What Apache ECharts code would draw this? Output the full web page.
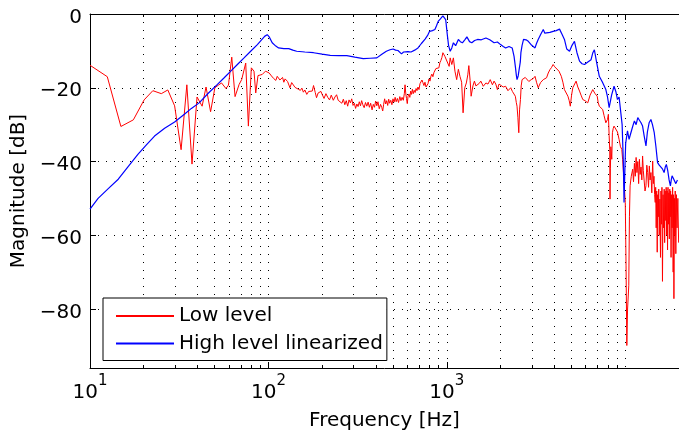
<!DOCTYPE html>
<html><head><meta charset="utf-8">
<script src="https://cdn.jsdelivr.net/npm/echarts@6/dist/echarts.min.js"></script>
<style>html,body{margin:0;padding:0;background:#fff}#c{width:679px;height:436px}</style>
</head><body><div id="c"></div>
<script>
const seriesNames = ['Low level', 'High level linearized'];
const xMajorTicks = [10, 100, 1000, 10000];
const xMinorTicks = [20,30,40,50,60,70,80,90,200,300,400,500,600,700,800,900,2000,3000,4000,5000,6000,7000,8000,9000];
const yTicks = [0, -20, -40, -60, -80];

const redFreq = [10,12.5,14.9,17.5,20.1,22.5,25.1,27.3,29.8,32.4,34.9,37.3,39.8,42.5,44.7,47.4,50.1,52.4,54.6,57.8,59.7,62.3,65.0,68.5,70.8,74.6,77.2,80.2,83.0,84.9,87.4,92.3,96.3,
101,104,107,110,112,114,116,118,120,122,124,126,128,130,132,135,138,141,144,147,151,154,157,160,164,168,172,176,179,183,186,190,193,197,
200,205,210,215,220,225,231,236,241,246,252,258,263,268,273,278,283,288,293,298,303,308,313,318,323,328,333,338,344,350,356,362,368,374,381,387,393,399,405,411,418,425,432,437,442,448,454,460,466,472,478,485,492,499,506,513,520,528,536,545,553,561,570,578,583,588,594,600,606,613,620,627,634,641,648,656,664,672,680,689,698,707,716,725,734,744,754,764,774,784,794,804,814,824,835,846,857,868,879,890,902,914,926,938,950,962,975,988,
1030,1044,1066,1088,1110,1135,1160,1184,1210,1233,1260,1286,1310,1328,1350,1368,1400,1427,1455,1486,1520,1550,1600,1655,1700,1750,1800,1839,1880,1920,1960,2000,2070,2135,2200,2280,2330,2380,2420,2450,2473,2500,2530,2555,2585,2610,2640,2700,2750,2800,2880,2970,3050,3120,3180,3250,3350,3470,3550,3620,3700,3780,3860,3940,4020,4110,4250,4380,4470,4560,4650,4770,4850,4920,5000,5080,5200,5300,5420,5540,5650,5780,5950,6160,6350,6570,6750,6960,7050,7150,7300,7470,7600,7780,7950,8040,8120,8180,8210,8250,8300,8400,8470,8560,8650,8850,9040,9230,9400,9560,9660,9800,
10000,10100,10200,10300,10460,10550,10640,10800,11000,11120,11250,11380,11500,11620,11750,11880,12000,12120,12250,12380,12500,12620,12750,12900,13060,13200,13350,13500,13640,13780,13920,14080,14240,14360,14480,14600,14720,
14800,14900,15000,15100,15200,15300,15400,15500,15630,15750,15850,15950,16050,16160,16280,16400,16520,16620,16730,16850,16950,17050,17150,17250,17350,17450,17550,17650,17750,17850,17950,18050,18180,18300,18420,18550,18650,18730,18850,18950,19050,19200,19350,19500,19700,19900];
const redMag = [-13.9,-17.0,-30.5,-28.7,-23.3,-20.8,-21.6,-20.6,-24.9,-36.8,-19.2,-40.7,-22.5,-25.0,-19.8,-26.5,-20.0,-19.3,-18.7,-20.2,-19.3,-11.7,-22.4,-19.1,-17.8,-13.3,-30.4,-14.6,-15.5,-21.4,-16.7,-16.4,-15.5,
-16.0,-16.8,-17.5,-18.0,-16.9,-17.0,-17.9,-18.0,-17.2,-18.5,-17.6,-17.4,-18.3,-17.8,-20.0,-18.6,-18.8,-19.9,-19.7,-20.4,-20.7,-20.1,-21.2,-20.6,-21.8,-21.0,-20.6,-20.9,-19.4,-21.3,-22.7,-21.4,-21.5,-21.0,
-21.8,-22.9,-21.6,-22.6,-23.3,-22.0,-23.4,-22.5,-21.9,-23.4,-23.0,-24.2,-23.1,-24.6,-23.5,-25.0,-23.3,-24.1,-23.0,-24.8,-24.2,-25.6,-24.4,-25.1,-23.8,-24.9,-23.5,-24.6,-25.4,-24.0,-25.0,-23.9,-25.3,-24.2,-26.0,-24.5,-25.3,-23.6,-24.9,-23.8,-25.7,-24.5,-25.4,-26.3,-24.6,-23.0,-24.4,-23.5,-24.8,-23.1,-24.2,-23.4,-24.6,-23.0,-23.9,-22.6,-23.8,-22.9,-24.0,-22.4,-23.5,-22.6,-23.4,-21.5,-19.2,-21.4,-22.9,-24.3,-22.3,-21.7,-22.6,-20.9,-21.8,-20.4,-21.6,-20.7,-21.3,-20.2,-20.8,-19.8,-20.5,-18.9,-19.4,-17.9,-18.6,-19.4,-18.5,-19.8,-20.2,-18.9,-17.6,-18.2,-16.9,-16.3,-17.0,-15.9,-16.3,-14.8,-15.3,-14.3,-14.6,-13.2,-12.6,-11.8,-10.5,-11.0,-11.5,-11.9,
-14.2,-11.9,-13.7,-11.9,-15.5,-17.8,-15.0,-16.9,-18.5,-26.8,-20.0,-18.7,-16.5,-14.0,-18.0,-22.3,-19.5,-18.2,-19.5,-20.0,-18.8,-18.2,-19.6,-18.7,-19.0,-17.8,-19.2,-18.2,-19.0,-20.5,-19.0,-18.7,-19.8,-19.6,-20.8,-20.0,-21.0,-21.4,-22.3,-24.0,-25.0,-28.0,-32.2,-26.0,-23.2,-19.5,-17.8,-18.0,-17.2,-17.3,-18.3,-17.8,-17.5,-16.9,-18.5,-20.0,-18.6,-17.8,-18.0,-17.3,-16.0,-15.1,-14.5,-13.7,-14.3,-14.6,-15.5,-16.9,-18.5,-20.5,-21.0,-22.3,-23.5,-25.0,-22.0,-20.0,-19.5,-18.2,-19.8,-20.9,-22.0,-23.2,-23.5,-24.1,-22.0,-20.5,-21.5,-22.3,-24.0,-25.0,-24.5,-25.9,-27.5,-29.5,-28.6,-27.2,-33.0,-36.7,-50.2,-42.0,-36.0,-39.4,-32.2,-31.0,-30.4,-30.4,-32.0,-34.0,-36.0,-36.7,-39.4,-44.0,
-51.1,-68.3,-89.9,-80.0,-73.7,-55.0,-46.6,-44.0,-42.1,-45.5,-40.5,-44.0,-38.9,-43.0,-40.0,-46.0,-39.4,-43.5,-41.5,-45.0,-38.5,-42.5,-42.0,-48.0,-46.6,-41.0,-43.0,-47.0,-41.2,-45.0,-43.0,-48.5,-39.9,-46.0,-44.0,-49.0,-51.1,
-47.0,-58.0,-48.0,-64.6,-49.0,-55.0,-47.5,-60.0,-50.2,-66.0,-48.0,-57.0,-47.0,-72.5,-49.0,-58.0,-47.5,-62.0,-48.0,-56.0,-47.0,-60.0,-48.0,-64.0,-47.0,-57.0,-48.5,-61.0,-47.5,-55.0,-48.0,-66.0,-49.0,-58.0,-47.0,-70.0,-49.0,-77.2,-50.0,-60.0,-48.0,-65.0,-49.0,-58.0,-50.0,-62.0];

const blueFreq = [10,11.1,12.7,14.4,16.4,18.6,20.7,23.0,26.2,29.8,33.8,37.0,40.9,46.0,51.8,56.5,61.5,67.0,73.0,79.5,86.7,91.5,95.5,98.5,
101,105,110,114,122,130,137,144,160,179,200,222,248,275,305,340,372,405,430,458,480,500,516,532,545,557,572,586,605,630,660,689,720,755,780,800,830,857,875,894,920,950,970,985,995,
1005,1022,1044,1066,1088,1120,1160,1190,1222,1260,1295,1340,1380,1430,1486,1560,1655,1740,1839,1920,2000,2070,2135,2230,2323,2380,2420,2450,2473,2510,2558,2580,2600,2640,2690,2780,2860,2990,3120,3180,3250,3360,3470,3540,3620,3780,3940,4100,4280,4420,4560,4700,4870,5030,5190,5360,5540,5720,5910,6170,6430,6580,6710,6900,7150,7450,7780,7950,8120,8380,8650,8850,9040,9230,9430,9600,9750,9840,9950,10050,
10290,10500,10750,11000,11250,11500,11750,12000,12250,12500,12750,13060,13300,13600,13920,14200,14530,14850,15170,15500,15810,16150,16500,16750,16990,17300,17600,17900,18100,18290,18550,18800,19200,19600];
const blueMag = [-52.9,-50.0,-47.3,-44.8,-41.3,-38.0,-35.5,-33.1,-31.0,-29.3,-27.2,-25.6,-24.1,-21.5,-19.1,-17.3,-15.5,-13.7,-11.9,-10.1,-8.3,-7.0,-6.0,-5.6,
-6.2,-7.8,-8.7,-9.2,-9.4,-9.4,-9.8,-10.1,-10.3,-10.5,-10.9,-11.2,-11.3,-11.3,-11.7,-12.1,-12.0,-11.9,-11.0,-10.1,-9.7,-9.5,-9.8,-9.9,-10.4,-10.8,-10.3,-9.8,-10.2,-10.3,-9.8,-9.2,-8.0,-6.8,-5.8,-4.7,-4.5,-4.2,-3.2,-2.0,-1.3,-0.5,-0.6,-1.5,-3.5,
-5.5,-8.5,-10.1,-9.2,-7.8,-8.6,-6.9,-7.5,-7.8,-7.0,-6.2,-7.5,-7.8,-7.2,-6.9,-7.0,-6.5,-7.0,-7.8,-7.6,-8.3,-8.8,-9.2,-8.8,-9.2,-11.5,-14.2,-16.5,-17.8,-16.8,-16.4,-13.0,-10.5,-8.5,-6.9,-7.0,-7.4,-8.5,-9.2,-8.0,-6.9,-5.5,-4.2,-5.2,-5.6,-5.0,-4.7,-4.5,-4.1,-5.5,-6.9,-9.5,-10.1,-8.5,-7.4,-10.5,-12.8,-13.5,-13.7,-13.0,-12.4,-10.5,-9.7,-13.0,-16.9,-18.5,-20.5,-22.5,-25.4,-22.0,-19.6,-21.0,-23.2,-22.5,-22.3,-30.0,-40.0,-51.1,-42.0,-35.0,
-31.7,-34.0,-32.2,-30.5,-29.0,-30.0,-28.1,-28.8,-29.5,-30.4,-33.0,-35.8,-32.0,-29.5,-28.6,-30.0,-32.2,-36.0,-40.3,-41.0,-41.2,-42.0,-43.0,-41.5,-40.8,-42.5,-45.0,-46.6,-45.0,-43.9,-44.5,-44.4,-46.0,-45.0];

const FONT = 'DejaVu Sans';
const dotted = {color: '#000', width: 1, type: [1, 7]};
const xBase = {type: 'log', logBase: 10, min: 10, max: 20000, gridIndex: 0};
const pair = (f, m) => f.map((v, i) => [v, m[i]]);

const chart = echarts.init(document.getElementById('c'), null, {renderer: 'canvas'});
chart.setOption({
  animation: false,
  backgroundColor: '#fff',
  grid: {left: 90, top: 14, right: -4, bottom: 67, containLabel: false},
  legend: {
    orient: 'vertical', left: 103, top: 298, padding: [8, 4, 7, 12],
    itemWidth: 58, itemHeight: 20, itemGap: 7.5,
    backgroundColor: '#fff', borderColor: '#000', borderWidth: 1, borderRadius: 0,
    selectedMode: false,
    itemStyle: {opacity: 0},
    textStyle: {fontFamily: FONT, fontSize: 20, color: '#000', lineHeight: 20},
    data: seriesNames
  },
  xAxis: [
    Object.assign({}, xBase, {
      position: 'bottom',
      axisLine: {show: true, onZero: false, lineStyle: {color: '#000', width: 1}},
      axisTick: {show: true, inside: true, length: 6, customValues: xMajorTicks, lineStyle: {color: '#000'}},
      axisLabel: {
        customValues: xMajorTicks, margin: 6, showMaxLabel: false,
        formatter: v => '{b|10}{s|' + Math.round(Math.log10(v)) + '}',
        rich: {
          b: {fontFamily: FONT, fontSize: 20, color: '#000', lineHeight: 38},
          s: {fontFamily: FONT, fontSize: 15, color: '#000', lineHeight: 15, verticalAlign: 'top'}
        }
      },
      splitLine: {show: true, lineStyle: dotted},
      name: 'Frequency [Hz]', nameLocation: 'middle', nameGap: 43,
      nameTextStyle: {fontFamily: FONT, fontSize: 20, color: '#000'}
    }),
    Object.assign({}, xBase, {
      position: 'bottom',
      axisLine: {show: false, onZero: false},
      axisTick: {show: true, inside: true, length: 3, customValues: xMinorTicks, lineStyle: {color: '#000'}},
      axisLabel: {show: false},
      splitLine: {show: true, lineStyle: dotted}
    }),
    Object.assign({}, xBase, {
      position: 'top',
      axisLine: {show: true, onZero: false, lineStyle: {color: '#000', width: 1}},
      axisTick: {show: true, inside: true, length: 6, customValues: xMajorTicks, lineStyle: {color: '#000'}},
      axisLabel: {show: false},
      splitLine: {show: false}
    }),
    Object.assign({}, xBase, {
      position: 'top',
      axisLine: {show: false, onZero: false},
      axisTick: {show: true, inside: true, length: 3, customValues: xMinorTicks, lineStyle: {color: '#000'}},
      axisLabel: {show: false},
      splitLine: {show: false}
    })
  ],
  yAxis: [{
    type: 'value', min: -96, max: 0, position: 'left',
    axisLine: {show: true, onZero: false, lineStyle: {color: '#000', width: 1}},
    axisTick: {show: true, inside: true, length: 6, customValues: yTicks, lineStyle: {color: '#000'}},
    axisLabel: {
      customValues: yTicks, margin: 8, fontFamily: FONT, fontSize: 20, color: '#000',
      verticalAlign: 'top', lineHeight: 7,
      formatter: v => v < 0 ? '\u2212' + (-v) : String(v)
    },
    splitLine: {show: true, lineStyle: dotted},
    name: 'Magnitude [dB]', nameLocation: 'middle', nameGap: 52, nameRotate: 90,
    nameTextStyle: {fontFamily: FONT, fontSize: 20, color: '#000'}
  }],
  series: [
    {name: seriesNames[0], type: 'line', xAxisIndex: 0, yAxisIndex: 0, data: pair(redFreq, redMag),
     symbol: 'none', smooth: false, lineStyle: {color: '#ff0000', width: 1}, itemStyle: {color: '#ff0000'}},
    {name: seriesNames[1], type: 'line', xAxisIndex: 0, yAxisIndex: 0, data: pair(blueFreq, blueMag),
     symbol: 'none', smooth: false, lineStyle: {color: '#0000ff', width: 1.2}, itemStyle: {color: '#0000ff'}}
  ]
});
</script></body></html>
